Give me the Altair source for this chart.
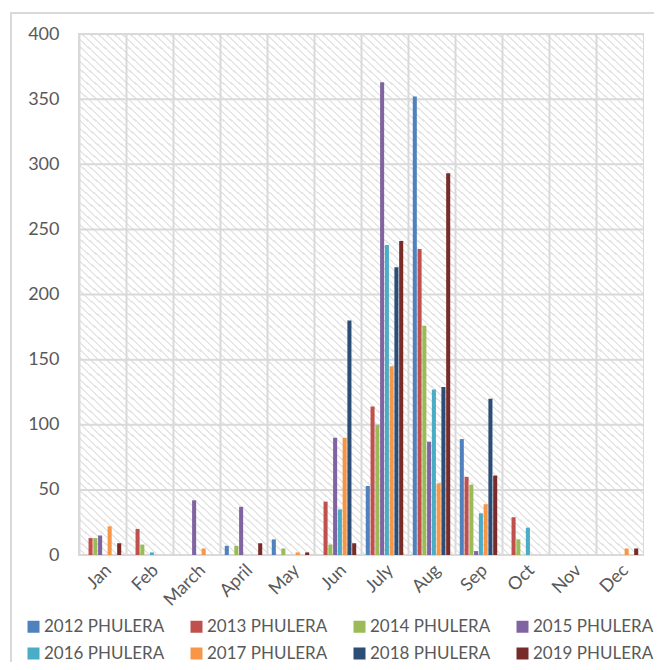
import altair as alt
import pandas as pd

months = ["Jan", "Feb", "March", "April", "May", "Jun", "July", "Aug", "Sep", "Oct", "Nov", "Dec"]
years = ["2012 PHULERA", "2013 PHULERA", "2014 PHULERA", "2015 PHULERA",
         "2016 PHULERA", "2017 PHULERA", "2018 PHULERA", "2019 PHULERA"]
v2012 = [0, 0, 0, 7, 12, 0, 53, 352, 89, 0, 0, 0]
v2013 = [13, 20, 0, 0, 0, 41, 114, 235, 60, 29, 0, 0]
v2014 = [13, 8, 0, 7, 5, 8, 100, 176, 54, 12, 0, 0]
v2015 = [15, 0, 42, 37, 0, 90, 363, 87, 3, 0, 0, 0]
v2016 = [0, 2, 0, 0, 0, 35, 238, 127, 32, 21, 0, 0]
v2017 = [22, 0, 5, 0, 2, 90, 145, 55, 39, 0, 0, 5]
v2018 = [0, 0, 0, 0, 0, 180, 221, 129, 120, 0, 0, 0]
v2019 = [9, 0, 0, 9, 2, 9, 241, 293, 61, 0, 0, 5]
yticks = [0, 50, 100, 150, 200, 250, 300, 350, 400]
colors = ["#4F81BD", "#C0504D", "#9BBB59", "#8064A2",
          "#4BACC6", "#F79646", "#2C4D75", "#772C2A"]

series = [v2012, v2013, v2014, v2015, v2016, v2017, v2018, v2019]
rows = []
for yr, vals in zip(years, series):
    for m, v in zip(months, vals):
        rows.append({"month": m, "series": yr, "value": v})
df = pd.DataFrame(rows)

W, H = 564, 521
FONT = "Lato"
GRID = "#d9d9d9"
TXT = "#595959"

# diagonal hatch background (style only)
N = 141
stops = []
for i in range(N):
    a = i / N
    b = (i + 0.72) / N
    c = (i + 1) / N
    stops += [{"offset": a, "color": "#ffffff"}, {"offset": b, "color": "#ffffff"},
              {"offset": b, "color": "#e6e6e6"}, {"offset": c, "color": "#e6e6e6"}]
grad = {"gradient": "linear", "x1": 0, "y1": 1, "x2": 1, "y2": 0, "stops": stops}

one = pd.DataFrame({"k": [0]})
bg = alt.Chart(one).mark_rect(fill=grad, strokeWidth=0).encode(
    x=alt.value(0), x2=alt.value(W), y=alt.value(0), y2=alt.value(H))
frame = alt.Chart(one).mark_rect(fillOpacity=0, stroke=GRID, strokeWidth=2).encode(
    x=alt.value(-68), x2=alt.value(W + 100), y=alt.value(-21), y2=alt.value(H + 250))

yscale = alt.Scale(domain=[0, 400])
yaxis = alt.Axis(values=yticks, grid=False, ticks=False, tickSize=0, domain=False,
                 labelFontSize=18, labelFont=FONT, labelColor=TXT, labelPadding=20)

grid = alt.Chart(pd.DataFrame({"value": yticks})).mark_rule(color=GRID, strokeWidth=2).encode(
    y=alt.Y("value:Q", scale=yscale, axis=yaxis, title=None))

bars = alt.Chart(df).mark_bar().encode(
    x=alt.X("month:N", sort=months, title=None,
            scale=alt.Scale(paddingInner=0, paddingOuter=0),
            axis=alt.Axis(labelAngle=-45, labelFontSize=18, labelFont=FONT, labelColor=TXT,
                          ticks=False, domain=False, grid=True, bandPosition=0,
                          gridColor=GRID, gridWidth=2, labelPadding=6, zindex=1)),
    xOffset=alt.XOffset("series:N", sort=years,
                        scale=alt.Scale(paddingInner=0.15, paddingOuter=1.0)),
    y=alt.Y("value:Q", scale=yscale, title=None, axis=yaxis),
    color=alt.Color("series:N", sort=years, scale=alt.Scale(domain=years, range=colors),
                    legend=alt.Legend(title=None, orient="none", legendX=-54, legendY=584,
                                      columns=4, direction="horizontal", symbolType="square",
                                      symbolSize=144, symbolStrokeWidth=0, labelFontSize=17,
                                      labelFont=FONT, labelColor=TXT, columnPadding=23,
                                      rowPadding=9, labelOffset=2, labelLimit=300, padding=0)),
)

chart = alt.layer(bg, frame, grid, bars).properties(
    width=W, height=H, autosize="none",
    padding={"left": 71, "top": 26, "right": 11, "bottom": 107},
).configure(font=FONT).configure_view(stroke=GRID, strokeWidth=2)

chart.save("out.html", embed_options={"renderer": "svg", "actions": False})
